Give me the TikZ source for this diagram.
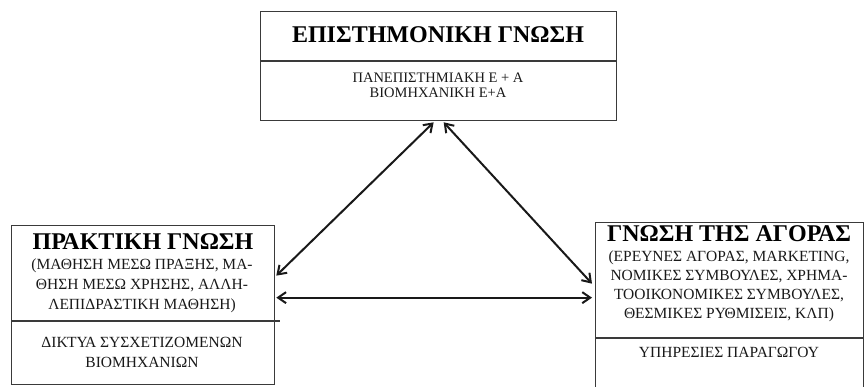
\documentclass[tikz,border=0pt]{standalone}
\usepackage{fontspec}
\setmainfont{Liberation Serif}
\usetikzlibrary{arrows.meta}
\definecolor{boxgray}{HTML}{3A3A3A}

\begin{document}
\begin{tikzpicture}[x=1pt,y=-1pt,>={Straight Barb[length=8pt,width=11pt]},
    box/.style={draw=boxgray,line width=1.3pt,anchor=north west,inner sep=0pt},
    title/.style={inner sep=0pt,font=\fontsize{24}{26}\selectfont\bfseries},
    body/.style={inner sep=0pt,font=\fontsize{15.5}{20}\selectfont,align=center,text=black!90},
    link/.style={<->,line width=2pt,black!90}]

    \useasboundingbox (0,0) rectangle (865,386);

    % boxes
    \node[box, minimum width=356pt, minimum height=109pt] (episteme) at (260,11) {};
    \node[box, minimum width=263pt, minimum height=159pt] (praktiki) at (11,225) {};
    \node[box, minimum width=268pt, minimum height=176pt] (agora) at (595,222) {};

    \draw[boxgray, line width=1.3pt] (episteme.west |- 0,61) -- (episteme.east |- 0,61);
    \draw[boxgray, line width=1.3pt] (praktiki.west |- 0,321) -- ([xshift=5pt]praktiki.east |- 0,321);
    \draw[boxgray, line width=1.3pt] (agora.west |- 0,338) -- (agora.east |- 0,338);

    % texts
    \node[title] (episteme-title) at (438,35) {ΕΠΙΣΤΗΜΟΝΙΚΗ ΓΝΩΣΗ};
    \node[body, font=\fontsize{14.5}{15}\selectfont] (episteme-body) at (438,85) {ΠΑΝΕΠΙΣΤΗΜΙΑΚΗ Ε + Α\\ΒΙΟΜΗΧΑΝΙΚΗ Ε+Α};

    \node[title] (praktiki-title) at (143,242) {ΠΡΑΚΤΙΚΗ ΓΝΩΣΗ};
    \node[body] (praktiki-body) at (142,286) {(ΜΑΘΗΣΗ ΜΕΣΩ ΠΡΑΞΗΣ, ΜΑ-\\ΘΗΣΗ ΜΕΣΩ ΧΡΗΣΗΣ, ΑΛΛΗ-\\ΛΕΠΙΔΡΑΣΤΙΚΗ ΜΑΘΗΣΗ)};
    \node[body] (praktiki-net) at (142,352) {ΔΙΚΤΥΑ ΣΥΣΧΕΤΙΖΟΜΕΝΩΝ\\ΒΙΟΜΗΧΑΝΙΩΝ};

    \node[title] (agora-title) at (729,234) {ΓΝΩΣΗ ΤΗΣ ΑΓΟΡΑΣ};
    \node[body, font=\fontsize{15.5}{19}\selectfont] (agora-body) at (729,286) {(ΕΡΕΥΝΕΣ ΑΓΟΡΑΣ, MARKETING,\\ΝΟΜΙΚΕΣ ΣΥΜΒΟΥΛΕΣ, ΧΡΗΜΑ-\\ΤΟΟΙΚΟΝΟΜΙΚΕΣ ΣΥΜΒΟΥΛΕΣ,\\ΘΕΣΜΙΚΕΣ ΡΥΘΜΙΣΕΙΣ, ΚΛΠ)};
    \node[body] (agora-serv) at (729,352) {ΥΠΗΡΕΣΙΕΣ ΠΑΡΑΓΩΓΟΥ};

    % arrows
    \draw[link] ([xshift=-5pt,yshift=-1pt]episteme.south) -- ([xshift=1pt,yshift=29.5pt]praktiki.east);
    \draw[link] ([xshift=5pt,yshift=-1pt]episteme.south) -- ([xshift=-3pt,yshift=27pt]agora.west);
    \draw[link] ([xshift=1pt,yshift=7.5pt]praktiki.east) -- ([xshift=-3pt,yshift=7.5pt]praktiki.east -| agora.west);
\end{tikzpicture}
\end{document}
